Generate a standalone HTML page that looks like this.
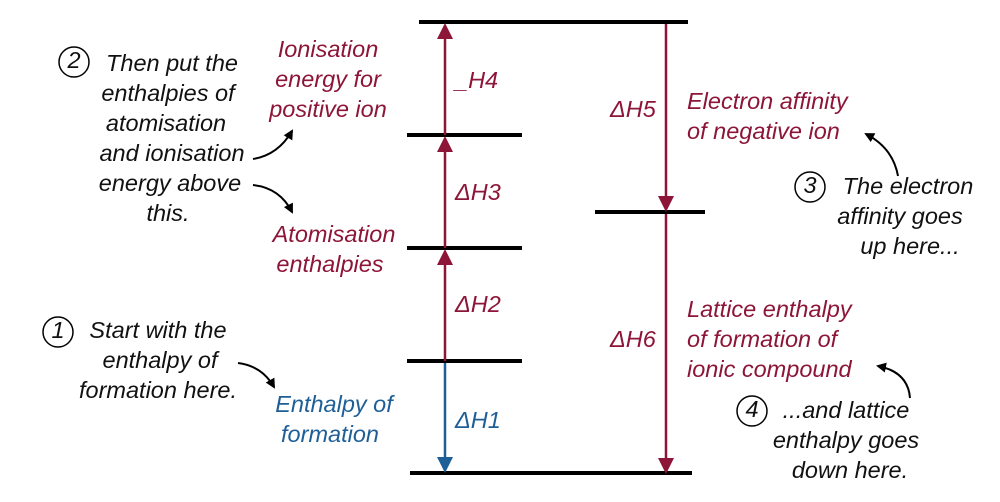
<!DOCTYPE html>
<html><head><style>
html,body{margin:0;padding:0;background:#fff;}
svg{display:block;}
text{font-family:"Liberation Sans",sans-serif;font-style:italic;font-size:23.5px;}
.r{fill:#8c1538;}
.b{fill:#1f5f97;}
.k{fill:#111;}
</style></head><body>
<svg width="1000" height="502" viewBox="0 0 1000 502">
<defs>
<marker id="ar" markerWidth="10" markerHeight="10" refX="8" refY="5" orient="auto" markerUnits="userSpaceOnUse"><path d="M0,0 L10,5 L0,10 z" fill="#000"/></marker>
</defs>
<g stroke="#000" stroke-width="4">
<line x1="419" y1="22" x2="688" y2="22"/>
<line x1="407" y1="135" x2="522" y2="135"/>
<line x1="407" y1="248" x2="522" y2="248"/>
<line x1="407" y1="361" x2="522" y2="361"/>
<line x1="410" y1="473" x2="692" y2="473"/>
<line x1="595" y1="212" x2="705" y2="212"/>
</g>
<g stroke="#8c1538" stroke-width="2.5">
<line x1="445" y1="361" x2="445" y2="262"/>
<line x1="445" y1="248" x2="445" y2="149"/>
<line x1="445" y1="135" x2="445" y2="36"/>
<line x1="666" y1="24" x2="666" y2="198"/>
<line x1="666" y1="214" x2="666" y2="459"/>
</g>
<line x1="445" y1="363" x2="445" y2="459" stroke="#1f5f97" stroke-width="2.5"/>
<g fill="#8c1538">
<path d="M437,265 L453,265 L445,249 z"/>
<path d="M437,152 L453,152 L445,136 z"/>
<path d="M437,39 L453,39 L445,23 z"/>
<path d="M658,196 L674,196 L666,212 z"/>
<path d="M658,458 L674,458 L666,474 z"/>
</g>
<path d="M437,457 L453,457 L445,473 z" fill="#1f5f97"/>

<text class="r" x="455" y="88">_H4</text>
<text class="r" x="455" y="200">ΔH3</text>
<text class="r" x="455" y="312">ΔH2</text>
<text class="b" x="455" y="428">ΔH1</text>
<text class="r" x="610" y="117">ΔH5</text>
<text class="r" x="610" y="347">ΔH6</text>

<g class="r" text-anchor="middle">
<text x="328" y="57">Ionisation</text>
<text x="328" y="87">energy for</text>
<text x="328" y="117">positive ion</text>
<text x="334" y="242">Atomisation</text>
<text x="330" y="272">enthalpies</text>
</g>
<text class="b" x="334" y="412" text-anchor="middle">Enthalpy of</text>
<text class="b" x="330" y="442" text-anchor="middle">formation</text>
<g class="r">
<text x="687" y="109">Electron affinity</text>
<text x="687" y="139">of negative ion</text>
<text x="687" y="317">Lattice enthalpy</text>
<text x="687" y="347">of formation of</text>
<text x="687" y="377">ionic compound</text>
</g>

<g class="k" text-anchor="middle">
<text x="172" y="71">Then put the</text>
<text x="168" y="101">enthalpies of</text>
<text x="166" y="131">atomisation</text>
<text x="172" y="161">and ionisation</text>
<text x="170" y="191">energy above</text>
<text x="168" y="221">this.</text>
<text x="158" y="338">Start with the</text>
<text x="160" y="368">enthalpy of</text>
<text x="158" y="398">formation here.</text>
<text x="908" y="194">The electron</text>
<text x="900" y="224">affinity goes</text>
<text x="910" y="254">up here...</text>
<text x="846" y="418">...and lattice</text>
<text x="846" y="448">enthalpy goes</text>
<text x="850" y="478">down here.</text>
</g>
<g fill="none" stroke="#000" stroke-width="1.5">
<circle cx="74" cy="62" r="15"/>
<circle cx="58" cy="332" r="15"/>
<circle cx="810" cy="187" r="15"/>
<circle cx="752" cy="411" r="15"/>
</g>
<g class="k" text-anchor="middle" style="font-style:normal;font-size:18px">
<text x="74" y="68">2</text>
<text x="58" y="338">1</text>
<text x="810" y="193">3</text>
<text x="752" y="417">4</text>
</g>
<g fill="none" stroke="#000" stroke-width="2" marker-end="url(#ar)">
<path d="M253,159 Q278,155 292,131"/>
<path d="M253,185 Q280,188 292,212"/>
<path d="M238,363 Q262,366 274,387"/>
<path d="M898,176 Q893,148 866,134"/>
<path d="M910,398 Q908,372 878,366"/>
</g>
</svg>
</body></html>
